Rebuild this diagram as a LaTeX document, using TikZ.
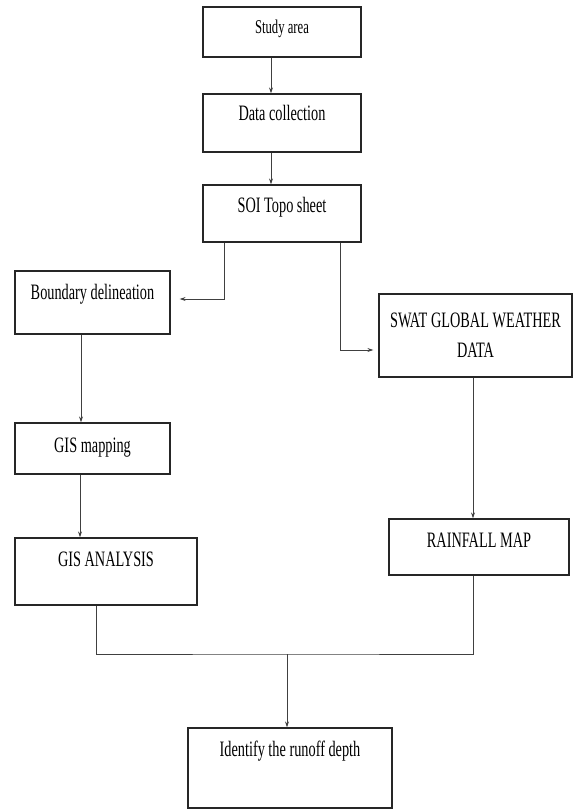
\documentclass[tikz,border=0pt]{standalone}
\usepackage{fontspec}
\setmainfont{Liberation Serif}[FakeStretch=0.65]
\usetikzlibrary{arrows.meta}
\begin{document}
\begin{tikzpicture}[x=1pt, y=-1pt]
\useasboundingbox (0,0) rectangle (574,809);

\tikzset{stepbox/.style={draw=black!85, line width=1.2pt, inner sep=0pt, align=center, font=\fontsize{22}{30}\selectfont}} 
\node[stepbox, minimum width=158pt, minimum height=50pt, text height=26pt, text depth=24pt, font=\fontsize{19.5}{30}\selectfont] (study) at (282,32) {Study area};
\node[stepbox, minimum width=158pt, minimum height=58pt, text height=26pt, text depth=32pt] (data) at (282,123) {Data collection};
\node[stepbox, minimum width=158pt, minimum height=57pt, text height=27pt, text depth=30pt] (soi) at (282,213.5) {SOI Topo sheet};
\node[stepbox, minimum width=155pt, minimum height=63pt, text height=28pt, text depth=35pt] (bound) at (92.5,302.5) {Boundary delineation};
\node[stepbox, minimum width=193pt, minimum height=83pt] (swat) at (475.5,335.5) {SWAT GLOBAL WEATHER\\DATA};
\node[stepbox, minimum width=155pt, minimum height=51pt, text height=29pt, text depth=22pt] (gism) at (92.5,448.5) {GIS mapping};
\node[stepbox, minimum width=182pt, minimum height=67pt, text height=28pt, text depth=39pt] (gisa) at (106,571.5) {GIS ANALYSIS};
\node[stepbox, minimum width=180pt, minimum height=56pt, text height=28pt, text depth=28pt] (rain) at (479,547) {RAINFALL MAP};
\node[stepbox, minimum width=204pt, minimum height=80pt, text height=28pt, text depth=52pt] (ident) at (290,768) {Identify the runoff depth};
\coordinate (merge) at (287,654);

\tikzset{mystyle/.style={-{Stealth[length=6pt,width=4pt]}, draw=black!75, line width=0.9pt}}; 
\path ([xshift=-11pt]study.south) edge [mystyle] ([xshift=-11pt]data.north);
\path ([xshift=-11pt]data.south) edge [mystyle] ([xshift=-11pt]soi.north);
\draw[mystyle] ([xshift=-58pt]soi.south) |- ([xshift=9pt, yshift=3.5pt]bound.east);
\draw[mystyle] ([xshift=58pt]soi.south) |- ([xshift=-5pt, yshift=-14.5pt]swat.west);
\path ([xshift=-11.5pt]bound.south) edge [mystyle] ([xshift=-11.5pt]bound.south |- gism.north);
\path ([xshift=-12.5pt]gism.south) edge [mystyle] ([xshift=-12.5pt]gism.south |- gisa.north);
\path ([xshift=-2.5pt]swat.south) edge [mystyle] ([xshift=-2.5pt]swat.south |- rain.north);
\tikzset{mystyle/.style={draw=black!75, line width=0.9pt}}; 
\draw[mystyle] ([xshift=-10pt]gisa.south) |- (merge) -| ([xshift=-6pt]rain.south);
\path (merge) edge [mystyle, -{Stealth[length=6pt,width=4pt]}] (merge |- ident.north);
\end{tikzpicture}
\end{document}
